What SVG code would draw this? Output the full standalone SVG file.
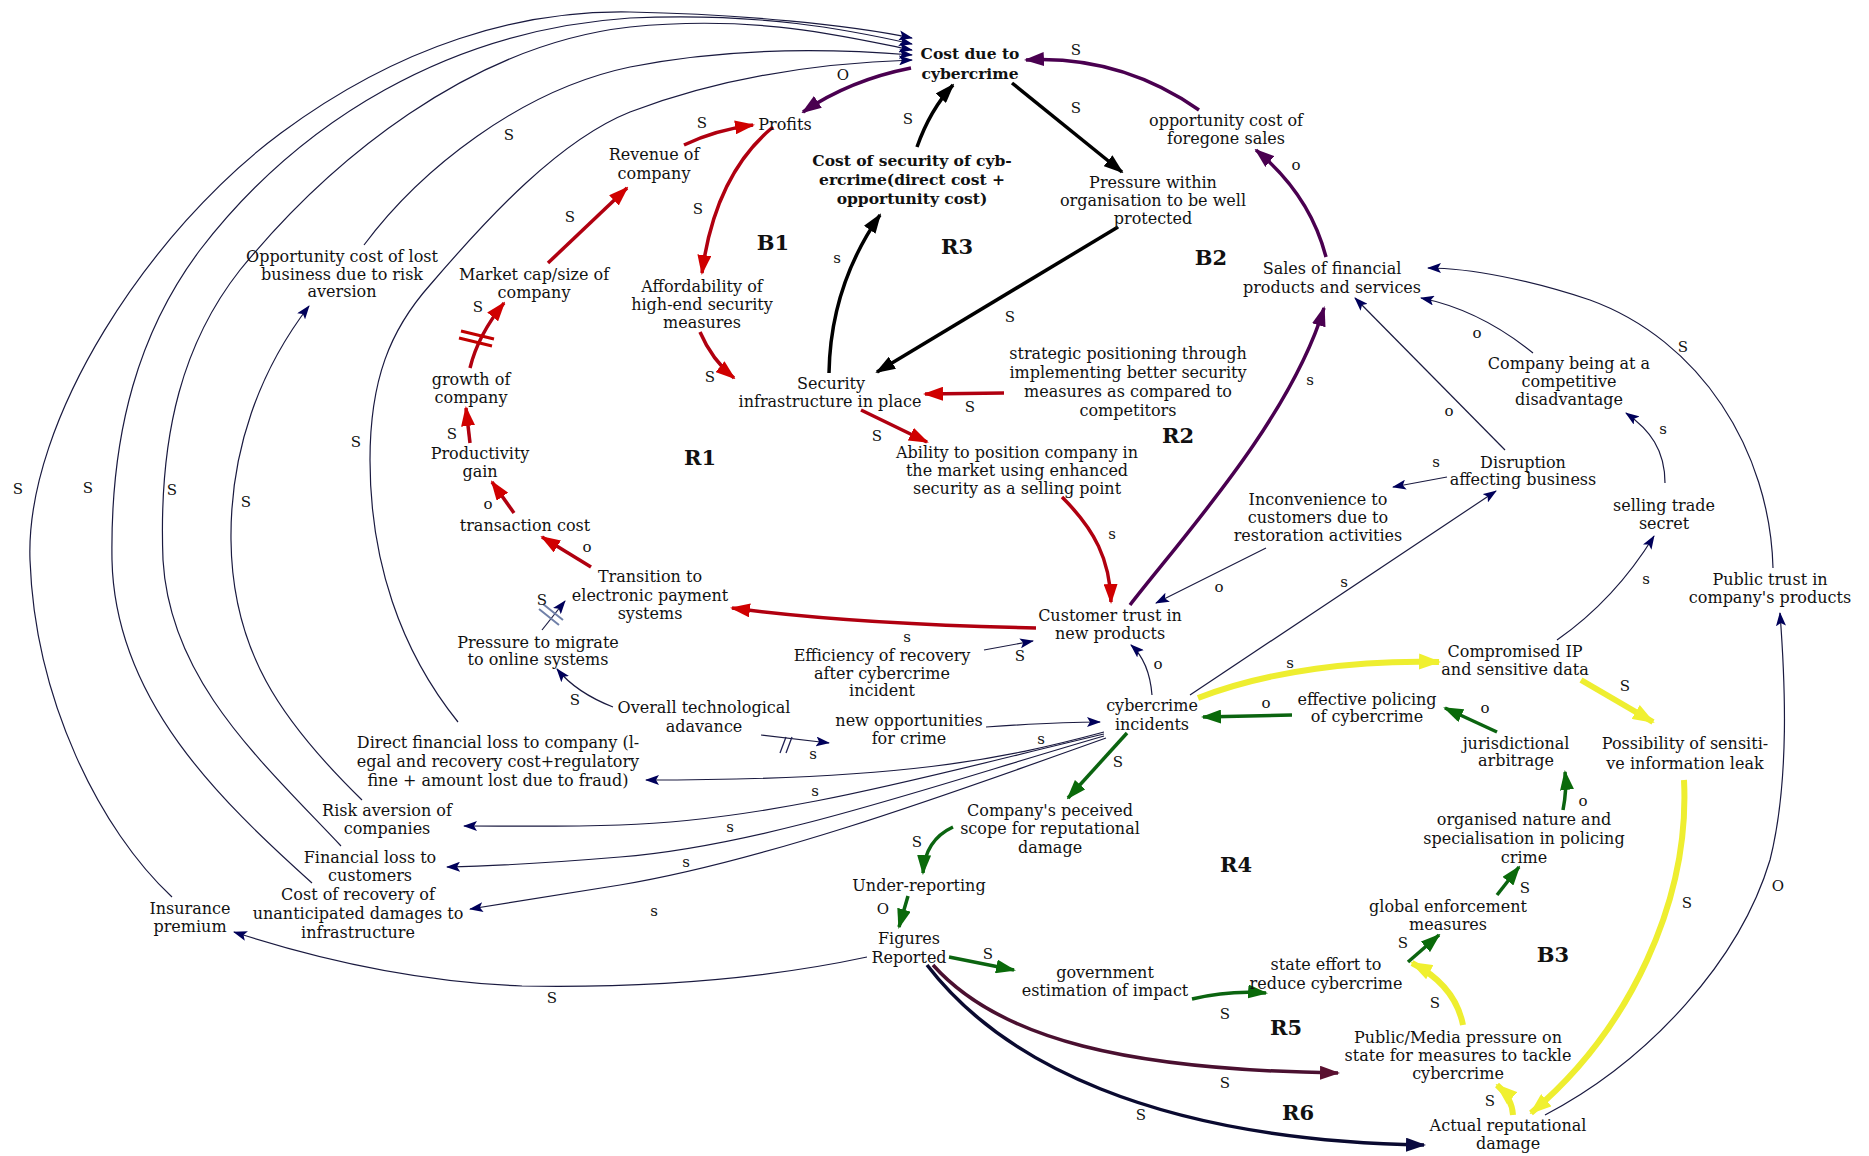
<svg xmlns="http://www.w3.org/2000/svg" width="1869" height="1156" viewBox="0 0 1869 1156">
<style>
.t{font-family:"DejaVu Serif","Liberation Serif",serif;font-size:16px;fill:#111;text-anchor:middle}
.b{font-weight:bold;font-size:15.5px}
.loop{font-family:"DejaVu Serif","Liberation Serif",serif;font-weight:bold;font-size:21px;fill:#111;text-anchor:middle}
.p{font-family:"DejaVu Serif","Liberation Serif",serif;font-size:15px;fill:#111;text-anchor:middle}
.thin{fill:none;stroke:#1a1a40;stroke-width:1.2;marker-end:url(#aNavy)}
.red{fill:none;stroke:#b00010;stroke-width:3.5;marker-end:url(#aRed)}
.blk{fill:none;stroke:#000;stroke-width:3.5;marker-end:url(#aBlk)}
.pur{fill:none;stroke:#4a0050;stroke-width:3.5;marker-end:url(#aPur)}
.grn{fill:none;stroke:#0b6410;stroke-width:3.5;marker-end:url(#aGrn)}
.yel{fill:none;stroke:#eeee30;stroke-width:6;marker-end:url(#aYel)}
.nvb{fill:none;stroke:#0a0a30;stroke-width:3.5;marker-end:url(#aNvb)}
.mar{fill:none;stroke:#4a1030;stroke-width:3.5;marker-end:url(#aMar)}
</style>
<defs>
<marker id="aNavy" viewBox="0 0 14 10" refX="13" refY="5" markerWidth="14" markerHeight="10" markerUnits="userSpaceOnUse" orient="auto"><path d="M0,0 L14,5 L0,10 L3,5 z" fill="#00005a"/></marker>
<marker id="aRed" viewBox="0 0 20 14" refX="18" refY="7" markerWidth="20" markerHeight="14" markerUnits="userSpaceOnUse" orient="auto"><path d="M0,0 L20,7 L0,14 z" fill="#d00000"/></marker>
<marker id="aBlk" viewBox="0 0 20 14" refX="18" refY="7" markerWidth="20" markerHeight="14" markerUnits="userSpaceOnUse" orient="auto"><path d="M0,0 L20,7 L0,14 z" fill="#000"/></marker>
<marker id="aPur" viewBox="0 0 20 14" refX="18" refY="7" markerWidth="20" markerHeight="14" markerUnits="userSpaceOnUse" orient="auto"><path d="M0,0 L20,7 L0,14 z" fill="#4a0050"/></marker>
<marker id="aGrn" viewBox="0 0 20 14" refX="18" refY="7" markerWidth="20" markerHeight="14" markerUnits="userSpaceOnUse" orient="auto"><path d="M0,0 L20,7 L0,14 z" fill="#0a6a0a"/></marker>
<marker id="aYel" viewBox="0 0 22 16" refX="20" refY="8" markerWidth="22" markerHeight="16" markerUnits="userSpaceOnUse" orient="auto"><path d="M0,0 L22,8 L0,16 z" fill="#f0f030"/></marker>
<marker id="aNvb" viewBox="0 0 20 14" refX="18" refY="7" markerWidth="20" markerHeight="14" markerUnits="userSpaceOnUse" orient="auto"><path d="M0,0 L20,7 L0,14 z" fill="#0a0a40"/></marker>
<marker id="aMar" viewBox="0 0 20 14" refX="18" refY="7" markerWidth="20" markerHeight="14" markerUnits="userSpaceOnUse" orient="auto"><path d="M0,0 L20,7 L0,14 z" fill="#5a1030"/></marker>
</defs>
<rect width="1869" height="1156" fill="#fff"/>

<g id="connectors">
<path class="thin" d="M172,897 C100,830 35,700 30,560 C25,420 150,230 281,133 C400,45 520,10 630,12 C740,14 850,25 912,38"/>
<path class="thin" d="M312,883 C220,800 115,700 112,560 C110,430 140,330 200,250 C300,120 450,30 630,18 C760,12 850,30 912,44"/>
<path class="thin" d="M341,846 C260,760 170,680 163,560 C158,430 185,340 240,270 C330,160 470,45 630,27 C760,14 850,38 912,50"/>
<path class="thin" d="M362,800 C280,720 232,650 231,540 C230,450 260,370 309,306"/>
<path class="thin" d="M364,245 C420,170 520,90 630,67 C740,45 850,50 912,55"/>
<path class="thin" d="M458,722 C400,650 370,560 370,460 C370,380 390,330 430,285 C490,215 560,140 630,112 C740,70 850,62 912,60"/>
<path class="thin" d="M986,727 C1030,724 1070,722 1100,722"/>
<path class="thin" d="M761,735 L829,743"/>
<path class="thin" d="M613,707 C590,698 570,685 557,669"/>
<path class="thin" d="M542,630 L565,601"/>
<path class="thin" d="M1104,732 C1000,760 900,780 646,780"/>
<path class="thin" d="M1104,734 C950,770 780,820 620,825 C560,827 510,826 464,826"/>
<path class="thin" d="M1104,736 C950,780 770,845 620,857 C560,862 500,866 447,867"/>
<path class="thin" d="M1106,738 C960,790 770,860 620,885 C560,895 510,903 470,909"/>
<path class="thin" d="M867,957 C760,980 640,988 522,986 C420,982 320,960 234,932"/>
<path class="thin" d="M1152,695 C1150,670 1142,655 1131,645"/>
<path class="thin" d="M984,650 L1033,641"/>
<path class="thin" d="M1266,548 L1156,603"/>
<path class="thin" d="M1447,477 L1393,487"/>
<path class="thin" d="M1190,695 L1496,491"/>
<path class="thin" d="M1505,450 L1355,298"/>
<path class="thin" d="M1533,353 Q1480,310 1421,298"/>
<path class="thin" d="M1665,483 C1665,450 1650,430 1626,413"/>
<path class="thin" d="M1557,640 C1600,610 1630,575 1654,536"/>
<path class="thin" d="M1773,568 C1770,450 1700,340 1590,300 C1530,280 1470,268 1428,268"/>
<path class="thin" d="M1545,1115 C1650,1060 1740,960 1770,860 C1790,780 1785,680 1780,613"/>

<path class="red" d="M684,145 Q715,130 753,125"/>
<path class="red" d="M773,127 Q715,175 702,273"/>
<path class="red" d="M548,263 L627,188"/>
<path class="red" d="M470,368 Q478,335 504,303"/>
<path class="red" d="M470,443 L466,408"/>
<path class="red" d="M514,513 L492,482"/>
<path class="red" d="M591,567 L542,537"/>
<path class="red" d="M1036,628 C900,625 800,617 732,608"/>
<path class="red" d="M700,332 Q712,360 734,378"/>
<path class="red" d="M1004,393 L925,394"/>
<path class="red" d="M861,410 L927,442"/>
<path class="red" d="M1062,497 C1095,530 1110,560 1111,602"/>

<path class="blk" d="M829,373 C830,312 850,258 880,215"/>
<path class="blk" d="M917,147 Q930,110 953,85"/>
<path class="blk" d="M1012,83 L1122,172"/>
<path class="blk" d="M1118,227 L877,372"/>

<path class="pur" d="M911,68 Q850,80 803,112"/>
<path class="pur" d="M1199,110 Q1120,55 1026,60"/>
<path class="pur" d="M1326,257 Q1310,195 1256,150"/>
<path class="pur" d="M1130,605 C1180,540 1290,420 1324,308"/>

<path class="grn" d="M1127,733 L1068,798"/>
<path class="grn" d="M953,827 Q925,840 923,873"/>
<path class="grn" d="M908,896 L899,927"/>
<path class="grn" d="M949,957 L1014,970"/>
<path class="grn" d="M1192,999 Q1230,990 1266,993"/>
<path class="grn" d="M1408,962 L1439,935"/>
<path class="grn" d="M1497,895 L1519,867"/>
<path class="grn" d="M1563,810 Q1567,790 1565,772"/>
<path class="grn" d="M1497,732 L1445,708"/>
<path class="grn" d="M1292,715 L1203,717"/>

<path class="yel" d="M1198,698 C1270,670 1360,660 1439,662"/>
<path class="yel" d="M1581,680 L1653,722"/>
<path class="yel" d="M1684,780 C1690,900 1630,1030 1531,1113"/>
<path class="yel" d="M1513,1115 Q1512,1098 1497,1085"/>
<path class="yel" d="M1463,1025 Q1455,985 1412,963"/>

<path class="mar" d="M933,965 C1000,1040 1130,1070 1338,1073"/>
<path class="nvb" d="M927,965 C1000,1060 1150,1140 1424,1145"/>

<g fill="none">
<path d="M461,331 L494,339 M459,338 L492,346" stroke="#c00000" stroke-width="3"/>
<path d="M539,609 L559,625 M543,604 L563,620" stroke="#7080a8" stroke-width="2"/>
<path d="M780,753 L786,737 M786,753 L792,737" stroke="#222255" stroke-width="1.3"/>
</g>
</g>

<g id="n-cost-due"><text class="t b"><tspan x="970" y="59">Cost due to</tspan><tspan x="970" y="79">cybercrime</tspan></text></g>
<g id="n-profits"><text class="t"><tspan x="785" y="130">Profits</tspan></text></g>
<g id="n-revenue"><text class="t"><tspan x="654" y="160">Revenue of</tspan><tspan x="654" y="179">company</tspan></text></g>
<g id="n-cost-security"><text class="t b"><tspan x="912" y="166">Cost of security of cyb-</tspan><tspan x="912" y="185">ercrime(direct cost +</tspan><tspan x="912" y="204">opportunity cost)</tspan></text></g>
<g id="n-pressure-within"><text class="t"><tspan x="1153" y="188">Pressure within</tspan><tspan x="1153" y="206">organisation to be well</tspan><tspan x="1153" y="224">protected</tspan></text></g>
<g id="n-opp-foregone"><text class="t"><tspan x="1226" y="126">opportunity cost of</tspan><tspan x="1226" y="144">foregone sales</tspan></text></g>
<g id="n-sales"><text class="t"><tspan x="1332" y="274">Sales of financial</tspan><tspan x="1332" y="293">products and services</tspan></text></g>
<g id="n-affordability"><text class="t"><tspan x="702" y="292">Affordability of</tspan><tspan x="702" y="310">high-end security</tspan><tspan x="702" y="328">measures</tspan></text></g>
<g id="n-market-cap"><text class="t"><tspan x="534" y="280">Market cap/size of</tspan><tspan x="534" y="298">company</tspan></text></g>
<g id="n-opp-lost"><text class="t"><tspan x="342" y="262">Opportunity cost of lost</tspan><tspan x="342" y="280">business due to risk</tspan><tspan x="342" y="297">aversion</tspan></text></g>
<g id="n-growth"><text class="t"><tspan x="471" y="385">growth of</tspan><tspan x="471" y="403">company</tspan></text></g>
<g id="n-productivity"><text class="t"><tspan x="480" y="459">Productivity</tspan><tspan x="480" y="477">gain</tspan></text></g>
<g id="n-transaction"><text class="t"><tspan x="525" y="531">transaction cost</tspan></text></g>
<g id="n-transition"><text class="t"><tspan x="650" y="582">Transition to</tspan><tspan x="650" y="601">electronic payment</tspan><tspan x="650" y="619">systems</tspan></text></g>
<g id="n-security-infra"><text class="t"><tspan x="831" y="389">Security</tspan><tspan x="830" y="407">infrastructure in place</tspan></text></g>
<g id="n-strategic"><text class="t"><tspan x="1128" y="359">strategic positioning through</tspan><tspan x="1128" y="378">implementing better security</tspan><tspan x="1128" y="397">measures as compared to</tspan><tspan x="1128" y="416">competitors</tspan></text></g>
<g id="n-ability"><text class="t"><tspan x="1017" y="458">Ability to position company in</tspan><tspan x="1017" y="476">the market using enhanced</tspan><tspan x="1017" y="494">security as a selling point</tspan></text></g>
<g id="n-disadvantage"><text class="t"><tspan x="1569" y="369">Company being at a</tspan><tspan x="1569" y="387">competitive</tspan><tspan x="1569" y="405">disadvantage</tspan></text></g>
<g id="n-disruption"><text class="t"><tspan x="1523" y="468">Disruption</tspan><tspan x="1523" y="485">affecting business</tspan></text></g>
<g id="n-inconvenience"><text class="t"><tspan x="1318" y="505">Inconvenience to</tspan><tspan x="1318" y="523">customers due to</tspan><tspan x="1318" y="541">restoration activities</tspan></text></g>
<g id="n-selling"><text class="t"><tspan x="1664" y="511">selling trade</tspan><tspan x="1664" y="529">secret</tspan></text></g>
<g id="n-public-trust"><text class="t"><tspan x="1770" y="585">Public trust in</tspan><tspan x="1770" y="603">company's products</tspan></text></g>
<g id="n-pressure-migrate"><text class="t"><tspan x="538" y="648">Pressure to migrate</tspan><tspan x="538" y="665">to online systems</tspan></text></g>
<g id="n-direct-loss"><text class="t"><tspan x="498" y="748">Direct financial loss to company (l-</tspan><tspan x="498" y="767">egal and recovery cost+regulatory</tspan><tspan x="498" y="786">fine + amount lost due to fraud)</tspan></text></g>
<g id="n-risk-aversion"><text class="t"><tspan x="387" y="816">Risk aversion of</tspan><tspan x="387" y="834">companies</tspan></text></g>
<g id="n-fin-loss"><text class="t"><tspan x="370" y="863">Financial loss to</tspan><tspan x="370" y="881">customers</tspan></text></g>
<g id="n-overall-tech"><text class="t"><tspan x="704" y="713">Overall technological</tspan><tspan x="704" y="732">adavance</tspan></text></g>
<g id="n-customer-trust"><text class="t"><tspan x="1110" y="621">Customer trust in</tspan><tspan x="1110" y="639">new products</tspan></text></g>
<g id="n-efficiency"><text class="t"><tspan x="882" y="661">Efficiency of recovery</tspan><tspan x="882" y="679">after cybercrime</tspan><tspan x="882" y="696">incident</tspan></text></g>
<g id="n-new-opp"><text class="t"><tspan x="909" y="726">new opportunities</tspan><tspan x="909" y="744">for crime</tspan></text></g>
<g id="n-cyber-incidents"><text class="t"><tspan x="1152" y="711">cybercrime</tspan><tspan x="1152" y="730">incidents</tspan></text></g>
<g id="n-perceived"><text class="t"><tspan x="1050" y="816">Company's peceived</tspan><tspan x="1050" y="834">scope for reputational</tspan><tspan x="1050" y="853">damage</tspan></text></g>
<g id="n-insurance"><text class="t"><tspan x="190" y="914">Insurance</tspan><tspan x="190" y="932">premium</tspan></text></g>
<g id="n-cost-recovery"><text class="t"><tspan x="358" y="900">Cost of recovery of</tspan><tspan x="358" y="919">unanticipated damages to</tspan><tspan x="358" y="938">infrastructure</tspan></text></g>
<g id="n-under-reporting"><text class="t"><tspan x="919" y="891">Under-reporting</tspan></text></g>
<g id="n-figures"><text class="t"><tspan x="909" y="944">Figures</tspan><tspan x="909" y="963">Reported</tspan></text></g>
<g id="n-government"><text class="t"><tspan x="1105" y="978">government</tspan><tspan x="1105" y="996">estimation of impact</tspan></text></g>
<g id="n-compromised"><text class="t"><tspan x="1515" y="657">Compromised IP</tspan><tspan x="1515" y="675">and sensitive data</tspan></text></g>
<g id="n-effective-policing"><text class="t"><tspan x="1367" y="705">effective policing</tspan><tspan x="1367" y="722">of cybercrime</tspan></text></g>
<g id="n-jurisdictional"><text class="t"><tspan x="1516" y="749">jurisdictional</tspan><tspan x="1516" y="766">arbitrage</tspan></text></g>
<g id="n-possibility"><text class="t"><tspan x="1685" y="749">Possibility of sensiti-</tspan><tspan x="1685" y="769">ve information leak</tspan></text></g>
<g id="n-organised"><text class="t"><tspan x="1524" y="825">organised nature and</tspan><tspan x="1524" y="844">specialisation in policing</tspan><tspan x="1524" y="863">crime</tspan></text></g>
<g id="n-global"><text class="t"><tspan x="1448" y="912">global enforcement</tspan><tspan x="1448" y="930">measures</tspan></text></g>
<g id="n-state-effort"><text class="t"><tspan x="1326" y="970">state effort to</tspan><tspan x="1326" y="989">reduce cybercrime</tspan></text></g>
<g id="n-public-media"><text class="t"><tspan x="1458" y="1043">Public/Media pressure on</tspan><tspan x="1458" y="1061">state for measures to tackle</tspan><tspan x="1458" y="1079">cybercrime</tspan></text></g>
<g id="n-actual-rep"><text class="t"><tspan x="1508" y="1131">Actual reputational</tspan><tspan x="1508" y="1149">damage</tspan></text></g>

<g id="loops">
<text class="loop" x="773" y="250">B1</text>
<text class="loop" x="957" y="254">R3</text>
<text class="loop" x="1211" y="265">B2</text>
<text class="loop" x="700" y="465">R1</text>
<text class="loop" x="1178" y="443">R2</text>
<text class="loop" x="1236" y="872">R4</text>
<text class="loop" x="1553" y="962">B3</text>
<text class="loop" x="1286" y="1035">R5</text>
<text class="loop" x="1298" y="1120">R6</text>
</g>

<g id="polarity">
<text class="p" x="18" y="494">S</text>
<text class="p" x="88" y="493">S</text>
<text class="p" x="172" y="495">S</text>
<text class="p" x="246" y="507">S</text>
<text class="p" x="356" y="447">S</text>
<text class="p" x="509" y="140">S</text>
<text class="p" x="570" y="222">S</text>
<text class="p" x="702" y="128">S</text>
<text class="p" x="843" y="80">O</text>
<text class="p" x="908" y="124">S</text>
<text class="p" x="1076" y="55">S</text>
<text class="p" x="1076" y="113">S</text>
<text class="p" x="1296" y="170">o</text>
<text class="p" x="698" y="214">S</text>
<text class="p" x="837" y="263">s</text>
<text class="p" x="478" y="312">S</text>
<text class="p" x="1010" y="322">S</text>
<text class="p" x="710" y="382">S</text>
<text class="p" x="970" y="412">S</text>
<text class="p" x="877" y="441">S</text>
<text class="p" x="452" y="439">S</text>
<text class="p" x="488" y="509">o</text>
<text class="p" x="587" y="552">o</text>
<text class="p" x="1112" y="539">s</text>
<text class="p" x="1310" y="385">s</text>
<text class="p" x="1477" y="338">o</text>
<text class="p" x="1449" y="416">o</text>
<text class="p" x="1683" y="352">S</text>
<text class="p" x="1663" y="434">s</text>
<text class="p" x="1436" y="467">s</text>
<text class="p" x="1344" y="587">s</text>
<text class="p" x="1646" y="584">s</text>
<text class="p" x="1219" y="592">o</text>
<text class="p" x="542" y="605">S</text>
<text class="p" x="575" y="705">S</text>
<text class="p" x="907" y="642">s</text>
<text class="p" x="1020" y="661">S</text>
<text class="p" x="1158" y="669">o</text>
<text class="p" x="813" y="759">s</text>
<text class="p" x="1041" y="744">s</text>
<text class="p" x="1118" y="767">S</text>
<text class="p" x="815" y="796">s</text>
<text class="p" x="730" y="832">s</text>
<text class="p" x="686" y="867">s</text>
<text class="p" x="654" y="916">s</text>
<text class="p" x="917" y="847">S</text>
<text class="p" x="883" y="914">O</text>
<text class="p" x="988" y="959">S</text>
<text class="p" x="552" y="1003">S</text>
<text class="p" x="1225" y="1019">S</text>
<text class="p" x="1225" y="1088">S</text>
<text class="p" x="1141" y="1120">S</text>
<text class="p" x="1290" y="668">s</text>
<text class="p" x="1266" y="708">o</text>
<text class="p" x="1625" y="691">S</text>
<text class="p" x="1485" y="713">o</text>
<text class="p" x="1583" y="806">o</text>
<text class="p" x="1525" y="893">S</text>
<text class="p" x="1403" y="948">S</text>
<text class="p" x="1435" y="1008">S</text>
<text class="p" x="1490" y="1106">S</text>
<text class="p" x="1687" y="908">S</text>
<text class="p" x="1778" y="891">O</text>
</g>
</svg>
